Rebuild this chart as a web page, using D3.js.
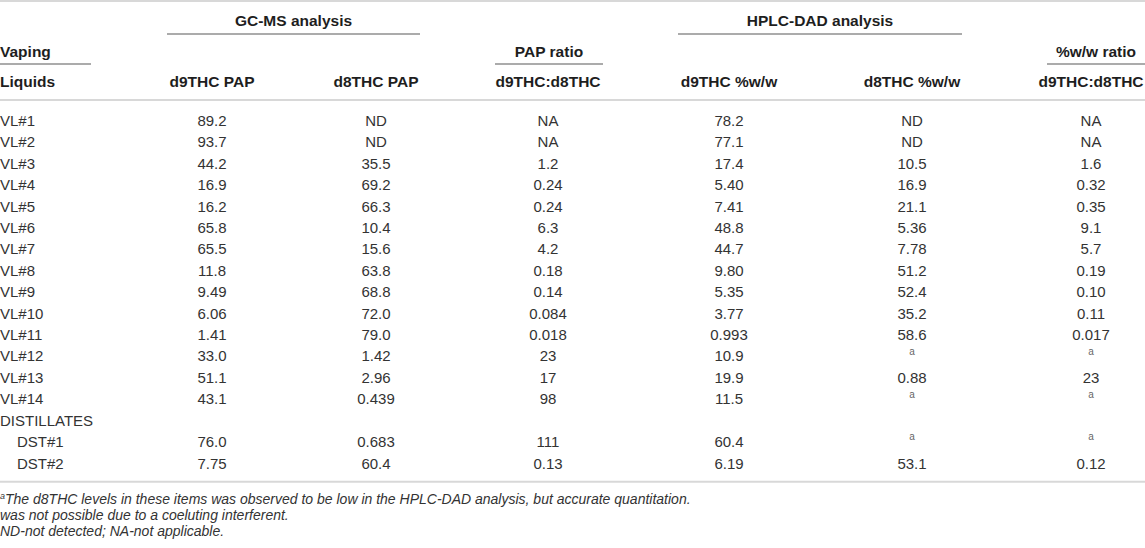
<!DOCTYPE html>
<html>
<head>
<meta charset="utf-8">
<script src="https://cdn.jsdelivr.net/npm/d3@7"></script>
<style>
  html, body { margin: 0; padding: 0; background: #fff; }
  svg { display: block; }
  text { font-family: "Liberation Sans", Arial, Helvetica, sans-serif; }
</style>
</head>
<body>
<svg id="chart" width="1145" height="548"></svg>
<script>
// ---- data ----
const samples   = ["VL#1","VL#2","VL#3","VL#4","VL#5","VL#6","VL#7","VL#8","VL#9","VL#10","VL#11","VL#12","VL#13","VL#14","DISTILLATES","DST#1","DST#2"];
const d9PAP     = ["89.2","93.7","44.2","16.9","16.2","65.8","65.5","11.8","9.49","6.06","1.41","33.0","51.1","43.1","","76.0","7.75"];
const d8PAP     = ["ND","ND","35.5","69.2","66.3","10.4","15.6","63.8","68.8","72.0","79.0","1.42","2.96","0.439","","0.683","60.4"];
const papRatio  = ["NA","NA","1.2","0.24","0.24","6.3","4.2","0.18","0.14","0.084","0.018","23","17","98","","111","0.13"];
const d9WW      = ["78.2","77.1","17.4","5.40","7.41","48.8","44.7","9.80","5.35","3.77","0.993","10.9","19.9","11.5","","60.4","6.19"];
const d8WW      = ["ND","ND","10.5","16.9","21.1","5.36","7.78","51.2","52.4","35.2","58.6","a","0.88","a","","a","53.1"];
const wwRatio   = ["NA","NA","1.6","0.32","0.35","9.1","5.7","0.19","0.10","0.11","0.017","a","23","a","","a","0.12"];
const indented  = ["DST#1","DST#2"];
const columnKeys = ["d9PAP","d8PAP","papRatio","d9WW","d8WW","wwRatio"];
const columnHeads = ["d9THC PAP","d8THC PAP","d9THC:d8THC","d9THC %w/w","d8THC %w/w","d9THC:d8THC"];
const spanners = [
  {label: "GC-MS analysis", from: "d9PAP", to: "d8PAP", level: 0},
  {label: "HPLC-DAD analysis", from: "d9WW", to: "d8WW", level: 0},
  {label: "PAP ratio", from: "papRatio", to: "papRatio", level: 1},
  {label: "%w/w ratio", from: "wwRatio", to: "wwRatio", level: 1}
];
const footnotes = [
  {sup: "a", text: "The d8THC levels in these items was observed to be low in the HPLC-DAD analysis, but accurate quantitation."},
  {sup: "", text: "was not possible due to a coeluting interferent."},
  {sup: "", text: "ND-not detected; NA-not applicable."}
];

const columnData = {d9PAP, d8PAP, papRatio, d9WW, d8WW, wwRatio};

// ---- layout ----
const W = 1145;
const svg = d3.select("#chart");

// column centres
const xCol = d3.scaleOrdinal().domain(columnKeys).range([212, 376, 548, 729, 912, 1091]);
// column extents for spanner lines
const colLeft  = d3.scaleOrdinal().domain(columnKeys).range([167, 332, 495, 678, 858, 1047]);
const colRight = d3.scaleOrdinal().domain(columnKeys).range([257, 420, 603, 780, 962, 1145]);

const yRow = d3.scalePoint().domain(samples).range([120.7, 463.3]);

const lightLine = "#d8d8d8";
const darkLine = "#8f8f8f";
const headColor = "#1e1e1e";
const bodyColor = "#333";

// top rule
svg.append("line").attr("x1", 0).attr("x2", W).attr("y1", 1).attr("y2", 1)
  .attr("stroke", lightLine).attr("stroke-width", 2);

// spanner headings
const spanY = [20.7, 52];
const spanLineY = [34, 64];
spanners.forEach(s => {
  const x1 = colLeft(s.from), x2 = colRight(s.to);
  svg.append("text")
    .attr("x", (x1 + x2) / 2).attr("y", spanY[s.level]).attr("dy", "0.35em")
    .attr("text-anchor", "middle").attr("font-weight", "bold")
    .attr("font-size", 15.5).attr("fill", headColor).text(s.label);
  svg.append("line").attr("x1", x1).attr("x2", x2)
    .attr("y1", spanLineY[s.level]).attr("y2", spanLineY[s.level])
    .attr("stroke", darkLine).attr("stroke-width", 1.3);
});

// stub heading
svg.append("text").attr("x", 0).attr("y", 52).attr("dy", "0.35em")
  .attr("font-weight", "bold").attr("font-size", 15.5).attr("fill", headColor).text("Vaping");
svg.append("line").attr("x1", 0).attr("x2", 91).attr("y1", 64).attr("y2", 64)
  .attr("stroke", darkLine).attr("stroke-width", 1.3);
svg.append("text").attr("x", 0).attr("y", 82).attr("dy", "0.35em")
  .attr("font-weight", "bold").attr("font-size", 15.5).attr("fill", headColor).text("Liquids");

// column headings
svg.selectAll("text.colhead").data(columnKeys).join("text")
  .attr("class", "colhead")
  .attr("x", k => xCol(k)).attr("y", 82).attr("dy", "0.35em")
  .attr("text-anchor", "middle").attr("font-weight", "bold")
  .attr("font-size", 15.5).attr("fill", headColor)
  .text((k, i) => columnHeads[i]);

// header rule
svg.append("line").attr("x1", 0).attr("x2", W).attr("y1", 100).attr("y2", 100)
  .attr("stroke", lightLine).attr("stroke-width", 2);

// body: stub column
svg.selectAll("text.stub").data(samples).join("text")
  .attr("class", "stub")
  .attr("x", d => indented.includes(d) ? 17 : 0)
  .attr("y", d => yRow(d)).attr("dy", "0.35em")
  .attr("font-size", 15).attr("fill", bodyColor).text(d => d);

// body: value cells
columnKeys.forEach(k => {
  const vals = columnData[k];
  const cells = samples.map((s, i) => ({s, v: vals[i]})).filter(c => c.v !== "");
  svg.selectAll(null).data(cells).join("text")
    .attr("x", xCol(k))
    .attr("y", c => c.v === "a" ? yRow(c.s) - 5 : yRow(c.s))
    .attr("dy", "0.35em")
    .attr("text-anchor", "middle")
    .attr("font-size", c => c.v === "a" ? 10 : 15)
    .attr("fill", c => c.v === "a" ? "#666" : bodyColor)
    .text(c => c.v);
});

// bottom rule
svg.append("line").attr("x1", 0).attr("x2", W).attr("y1", 481.7).attr("y2", 481.7)
  .attr("stroke", lightLine).attr("stroke-width", 2);

// footnotes
const yFoot = d3.scalePoint().domain(d3.range(footnotes.length)).range([499, 531]);
footnotes.forEach((f, i) => {
  const t = svg.append("text").attr("x", 0).attr("y", yFoot(i)).attr("dy", "0.35em")
    .attr("font-size", 14).attr("font-style", "italic").attr("fill", bodyColor);
  if (f.sup) {
    t.append("tspan").attr("font-size", 9).attr("baseline-shift", "super").text(f.sup);
  }
  t.append("tspan").text(f.text);
});
</script>
</body>
</html>
